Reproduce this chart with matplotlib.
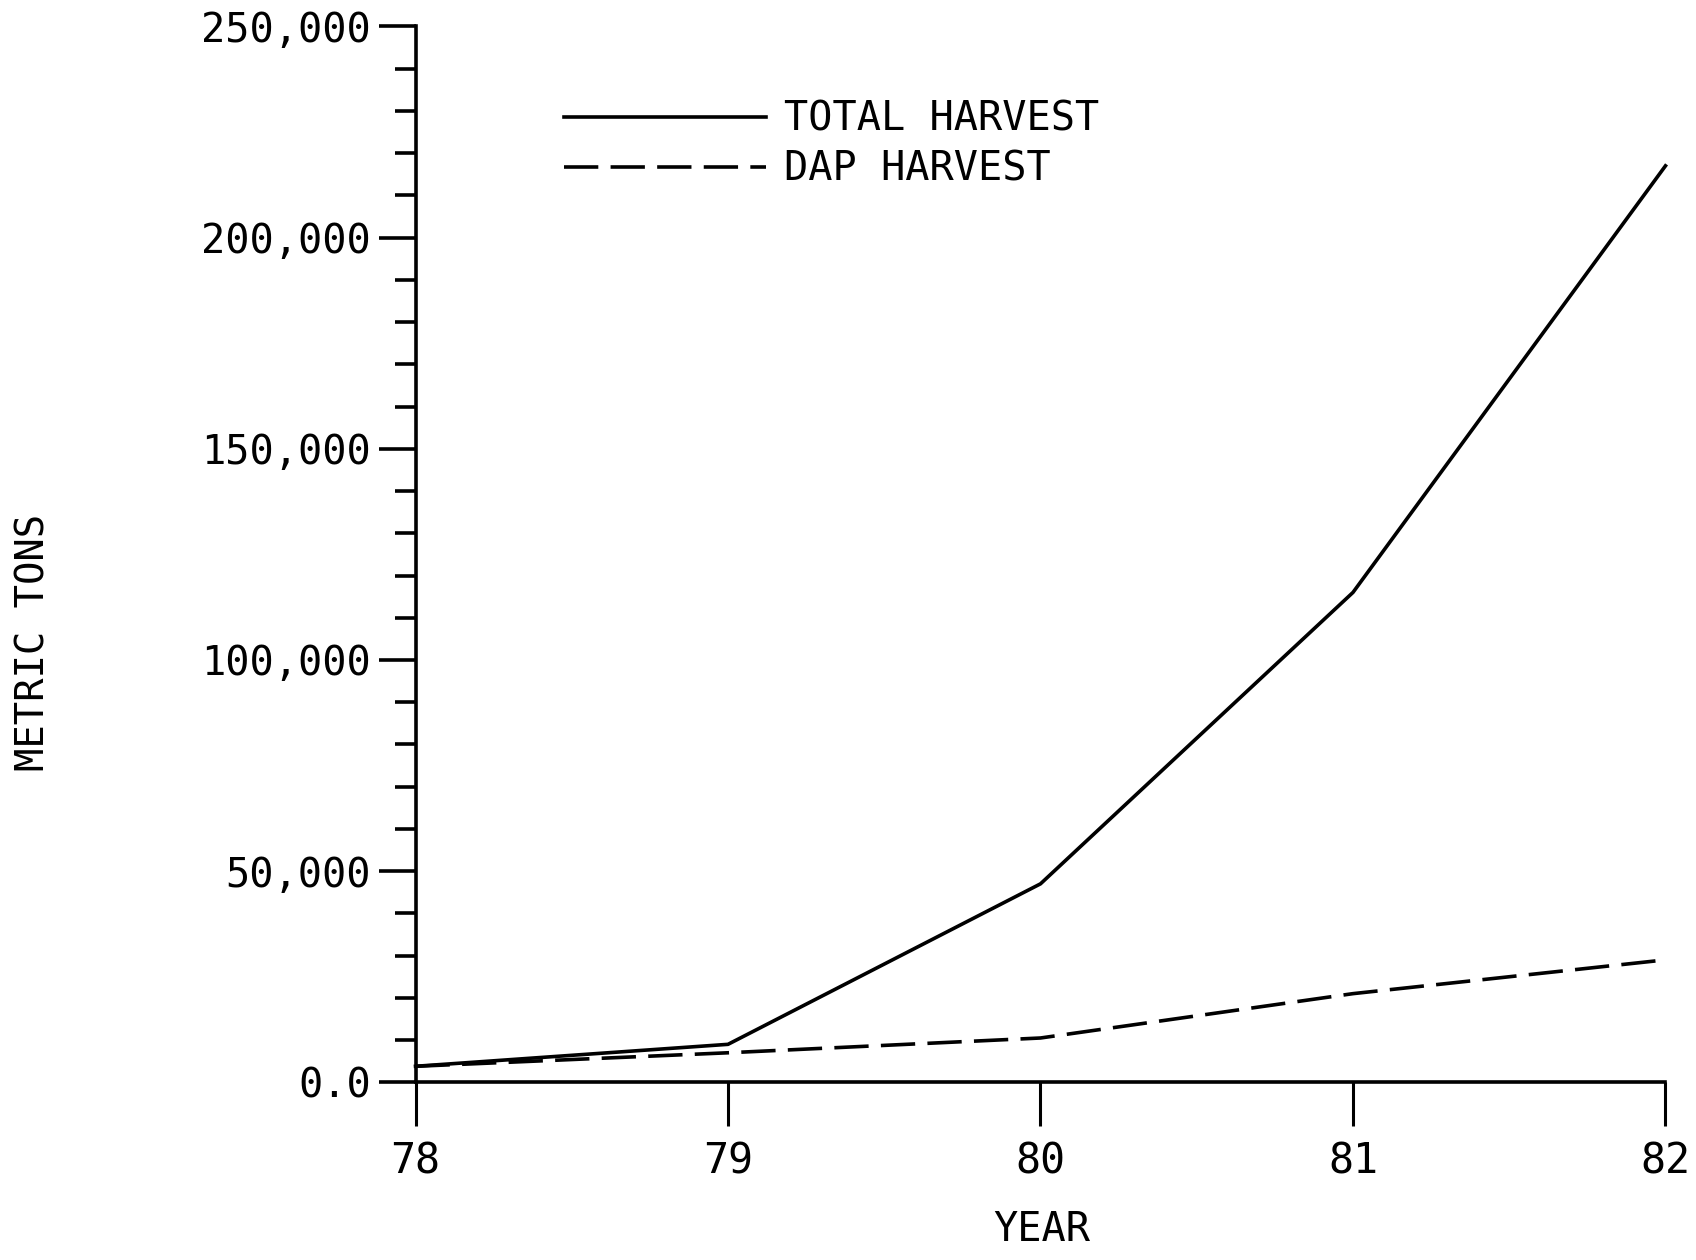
import matplotlib.pyplot as plt
import numpy as np
from matplotlib.ticker import MultipleLocator, FuncFormatter

years = [78, 79, 80, 81, 82]
total_harvest = [3800, 9000, 47000, 116000, 217000]
dap_harvest = [3800, 7000, 10500, 21000, 29000]

font = "DejaVu Sans Mono"

fig = plt.figure(figsize=(16.96, 12.6), dpi=100)
ax = fig.add_axes([0.245, 0.141, 0.737, 0.838])

ax.plot(years, total_harvest, color="black", lw=2.6, label="TOTAL HARVEST", clip_on=False)
ax.plot(years, dap_harvest, color="black", lw=2.6, dashes=(9.5, 3.4), label="DAP HARVEST", clip_on=False)

ax.set_xlim(78, 82)
ax.set_ylim(0, 250000)

for s in ["top", "right"]:
    ax.spines[s].set_visible(False)
for s in ["left", "bottom"]:
    ax.spines[s].set_linewidth(2.6)

ax.set_xticks(years)
ax.yaxis.set_major_locator(MultipleLocator(50000))
ax.yaxis.set_minor_locator(MultipleLocator(10000))


def fmt(v, pos):
    if v == 0:
        return "0.0"
    return f"{int(v):,}"


ax.yaxis.set_major_formatter(FuncFormatter(fmt))
ax.tick_params(axis="y", which="major", direction="out", length=27, width=2.6, pad=5)
ax.tick_params(axis="y", which="minor", direction="out", length=15, width=2.6)
ax.tick_params(axis="x", direction="out", length=32, width=2.2, pad=10)

for lab in ax.get_yticklabels():
    lab.set_fontfamily(font)
    lab.set_fontsize(29)
for lab in ax.get_xticklabels():
    lab.set_fontfamily(font)
    lab.set_fontsize(30)

fig.text(0.614, 0.008, "YEAR", ha="center", va="bottom",
         fontfamily=font, fontsize=29)
fig.text(0.02, 0.49, "METRIC TONS", rotation=90, ha="center", va="center",
         fontfamily=font, fontsize=28)

ax.legend(loc="upper left", bbox_to_anchor=(0.09, 0.965), frameon=False,
          handlelength=5.0, handletextpad=0.45, labelspacing=0.25,
          prop={"family": font, "size": 29})

fig.savefig("out.png", dpi=100)
